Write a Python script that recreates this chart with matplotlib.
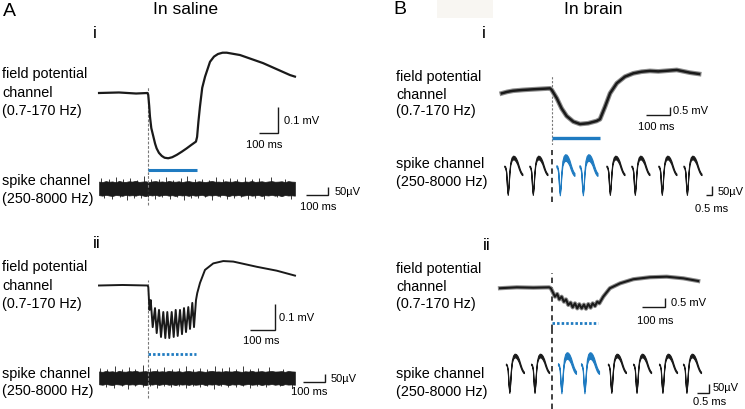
import numpy as np
import matplotlib
matplotlib.use("Agg")
import matplotlib.pyplot as plt
from matplotlib.patches import Rectangle

plt.rcParams["font.family"] = ["Liberation Sans", "DejaVu Sans"]

W, H = 745, 409
BLACK = "#1a1a1a"
BLUE = "#1f7bc1"
GREY = "#7a7a7a"

# =============================================================================
# Data
# =============================================================================

# --- A i: field potential in saline, continuous light (ms, mV) ---
AI_FIELD_T = [-255, -150, -60, 0, 4, 9, 13, 20, 31, 40, 48, 60, 75, 90, 109, 130,
              154, 180, 206, 230, 255, 261, 268, 276, 288, 303, 329, 350, 371,
              395, 417, 487, 608, 750, 776]
AI_FIELD_MV = [0.0, 0.002, -0.002, 0.0, -0.008, -0.050, -0.091, -0.135, -0.168,
               -0.195, -0.213, -0.230, -0.242, -0.249, -0.251, -0.247, -0.238,
               -0.226, -0.213, -0.200, -0.187, -0.169, -0.110, -0.053, 0.020,
               0.063, 0.120, 0.140, 0.150, 0.155, 0.155, 0.146, 0.115, 0.069,
               0.063]
AI_STIM_MS = (0, 260)

# --- A ii: field potential in saline, pulsed light (ms, mV) ---
AII_FIELD_T = [-194, -100, 0, 3.2, 8, 12.8, 20.8, 30, 36.8, 46, 54, 63.2, 71.2,
               79.2, 87.2, 96.8, 104.8, 112.8, 120.8, 130, 138, 146, 154, 163.2,
               170, 179.2, 186, 194, 199, 210, 230, 263, 303, 343, 437, 517, 590]
AII_FIELD_MV = [0.0, 0.002, 0.0, -0.006, -0.094, -0.056, -0.160, -0.087, -0.183,
                -0.094, -0.198, -0.102, -0.202, -0.102, -0.202, -0.102, -0.198,
                -0.094, -0.194, -0.094, -0.187, -0.087, -0.179, -0.083, -0.167,
                -0.067, -0.160, -0.056, -0.029, 0.010, 0.060, 0.085, 0.094,
                0.092, 0.072, 0.057, 0.038]
AII_STIM_MS = (2, 194)

# --- A: spike channel noise (uV): band edges over the sweep + single hairs ---
A_NOISE_SPAN_MS = (-220, 670)
AI_NOISE_UP = [42, 39, 45, 41, 43, 38, 46, 41, 40, 44, 42, 47, 40, 42, 44, 39, 43, 45, 41, 43,
               40, 46, 42, 41, 44, 39, 43, 45, 41, 40, 44, 42, 39, 43, 46, 41, 42, 40, 44, 42,
               41, 45, 42, 39, 43, 41, 46, 40, 42, 44, 40, 43, 45, 41, 42, 44, 39, 45, 42, 41]
AI_NOISE_LO = [-43, -46, -41, -45, -48, -42, -44, -47, -41, -45, -43, -46, -40, -44, -49, -42, -45, -41, -47, -43,
               -41, -46, -43, -48, -42, -45, -43, -47, -42, -46, -44, -41, -48, -43, -45, -42, -47, -41, -44, -49,
               -43, -45, -42, -47, -44, -41, -46, -44, -42, -48, -43, -45, -41, -46, -43, -49, -42, -45, -44, -46]
AI_HAIR_UP_T = [-210, -176, -141, -112, -80, -47, -15, 18, 52, 83, 117, 150, 181,
                214, 246, 279, 311, 344, 376, 409, 441, 474, 507, 560, 625]
AI_HAIR_UP_UV = [62, 55, 71, 58, 66, 53, 78, 60, 57, 69, 54, 64, 75,
                 56, 61, 52, 70, 59, 65, 57, 73, 55, 62, 68, 58]
AI_HAIR_LO_T = [-198, -160, -126, -95, -63, -30, 3, 35, 68, 100, 133, 165, 198,
                230, 262, 295, 328, 360, 392, 425, 458, 490, 530, 590, 650]
AI_HAIR_LO_UV = [-60, -68, -55, -74, -58, -63, -52, -70, -57, -65, -54, -72, -59,
                 -62, -56, -76, -53, -66, -60, -55, -69, -58, -64, -57, -67]

AII_NOISE_UP = [44, 41, 47, 43, 45, 40, 48, 43, 42, 46, 44, 49, 42, 44, 46, 41, 45, 47, 43, 45,
                42, 48, 44, 43, 46, 41, 45, 47, 43, 42, 46, 44, 41, 45, 48, 43, 44, 42, 46, 44,
                43, 47, 44, 41, 45, 43, 48, 42, 44, 46, 42, 45, 47, 43, 44, 46, 41, 47, 44, 43]
AII_NOISE_LO = [-42, -45, -40, -44, -47, -41, -43, -46, -40, -44, -42, -45, -39, -43, -48, -41, -44, -40, -46, -42,
                -40, -45, -42, -47, -41, -44, -42, -46, -41, -45, -43, -40, -47, -42, -44, -41, -46, -40, -43, -48,
                -42, -44, -41, -46, -43, -40, -45, -43, -41, -47, -42, -44, -40, -45, -42, -48, -41, -44, -43, -45]
AII_HAIR_UP_T = [-214, -183, -150, -118, -86, -55, -22, 10, 44, 76, 110, 142, 175,
                 207, 240, 272, 305, 337, 370, 402, 435, 468, 500, 550, 615]
AII_HAIR_UP_UV = [68, 60, 80, 63, 72, 58, 85, 66, 62, 76, 59, 70, 82,
                  61, 67, 57, 77, 64, 71, 62, 79, 60, 68, 74, 63]
AII_HAIR_LO_T = [-190, -152, -118, -88, -55, -20, 12, 44, 77, 108, 141, 173, 206,
                 238, 270, 302, 335, 367, 400, 432, 465, 498, 540, 600, 655]
AII_HAIR_LO_UV = [-57, -64, -52, -70, -55, -60, -50, -66, -54, -62, -51, -68, -56,
                  -59, -53, -72, -50, -63, -57, -52, -65, -55, -61, -54, -64]

# --- B i: field potential in brain, continuous light (ms, mV) ---
BI_FIELD_T = [-207, -185, -160, -120, -77, -6, 1, 22, 42, 63, 91, 119, 153, 188,
              202, 223, 244, 272, 306, 341, 375, 410, 445, 480, 522, 577, 615]
BI_FIELD_MV = [-0.27, -0.18, -0.11, -0.06, -0.02, 0.04, -0.06, -0.58, -1.21,
               -1.69, -2.04, -2.19, -2.14, -2.00, -1.89, -1.11, -0.27, 0.36,
               0.77, 0.98, 1.08, 1.13, 1.10, 1.14, 1.19, 1.02, 0.94]
BI_STIM_MS = (0, 202)

# --- B ii: field potential in brain, pulsed light (ms, mV) ---
BII_FIELD_T = [-224, -151, -79, -10, -3, 8, 15, 25, 34, 44, 54, 63, 73, 83, 92,
               102, 112, 121, 131, 141, 150, 160, 170, 179, 189, 199, 208, 225,
               254, 298, 356, 428, 501, 573, 638]
BII_FIELD_MV = [-0.04, 0.01, -0.01, 0.01, -0.04, -0.32, -0.51, -0.36, -0.66,
                -0.51, -0.79, -0.66, -0.97, -0.84, -1.10, -0.88, -1.16, -0.93,
                -1.16, -0.95, -1.18, -0.92, -1.12, -0.88, -1.03, -0.79, -0.88,
                -0.51, -0.04, 0.23, 0.46, 0.57, 0.60, 0.51, 0.36]
BII_STIM_MS = (0, 202)

# --- B: sorted unit waveform (fraction of the window, uV) ---
SPIKE_FRAC = [0.00, 0.05, 0.10, 0.15, 0.19, 0.23, 0.28, 0.33, 0.40, 0.48,
              0.56, 0.64, 0.72, 0.80, 0.88, 0.95, 1.00]
SPIKE_UV = [15, 10, -15, -100, -140, -100, -20, 30, 55, 64,
            62, 52, 35, 10, -12, -25, -30]
SPIKE_SPREAD_BASE = [4, 4, 4, 4, 4, 4, 5, 7, 9, 10, 10, 10, 9, 8, 6, 5, 4]
SPIKE_SPREAD_EVOKED = [6, 6, 6, 6, 6, 7, 10, 14, 17, 18, 18, 17, 15, 13, 11, 9, 8]

BI_SPIKE_ONSET_MS = [-3.93, -1.84, 0.41, 2.33, 4.58, 6.66, 8.91, 11.0]
BI_SPIKE_WIN_MS = 1.5
BII_SPIKE_ONSET_MS = [-1.90, -0.85, 0.27, 1.23, 2.35, 3.40, 4.48, 5.48]
BII_SPIKE_WIN_MS = 0.75
SPIKE_EVOKED = [False, False, True, True, False, False, False, False]


# =============================================================================
# Helpers
# =============================================================================

fig = plt.figure(figsize=(W / 100, H / 100), dpi=100)


def trace_axes(box, origin, px_per_x, px_per_y):
    """Axes over a pixel box; origin is the pixel of (t=0, v=0)."""
    l, t, r, b = box
    ax = fig.add_axes([l / W, 1 - b / H, (r - l) / W, (b - t) / H])
    ax.set_xlim((l - origin[0]) / px_per_x, (r - origin[0]) / px_per_x)
    ax.set_ylim((origin[1] - b) / px_per_y, (origin[1] - t) / px_per_y)
    ax.axis("off")
    ax._box = box
    return ax


def onset_line(ax, y_top, y_bot, **style):
    l, t, r, b = ax._box
    ax.axvline(0, ymin=(b - y_bot) / (b - t), ymax=(b - y_top) / (b - t), **style)


def scale_bar(ax, x_end, y0, dx, dy, xlab, xlab_pos, ylab, ylab_pos):
    ax.plot([x_end - dx, x_end, x_end], [y0, y0, y0 + dy], color=BLACK,
            lw=1.0, solid_joinstyle="miter", solid_capstyle="butt", clip_on=False)
    ax.text(*ylab_pos, ylab, fontsize=8, ha="left", va="center")
    ax.text(*xlab_pos, xlab, fontsize=8, ha="center", va="center")


def fig_text(x, y, s, size=10.4, **kw):
    fig.text(x / W, 1 - y / H, s, fontsize=size, va="center", **kw)


def channel_labels(x, ys):
    lines = ["field potential", "channel", "(0.7-170 Hz)",
             "spike channel", "(250-8000 Hz)"]
    for s, y in zip(lines, ys):
        fig_text(x, y, s)


def noise_band(ax, up, lo, hair_up_t, hair_up, hair_lo_t, hair_lo):
    tn = np.linspace(*A_NOISE_SPAN_MS, len(up))
    ax.fill_between(tn, lo, up, color=BLACK, lw=0.5, edgecolor=BLACK)
    ax.vlines(hair_up_t, 0, hair_up, color=BLACK, lw=0.6)
    ax.vlines(hair_lo_t, hair_lo, 0, color=BLACK, lw=0.6)


def draw_spikes(ax, onsets, win):
    frac = np.array(SPIKE_FRAC)
    uv = np.array(SPIKE_UV)
    for onset, evoked in zip(onsets, SPIKE_EVOKED):
        t = onset + frac * win
        spread = np.array(SPIKE_SPREAD_EVOKED if evoked else SPIKE_SPREAD_BASE)
        color = BLUE if evoked else BLACK
        ax.fill_between(t, uv - spread, uv + spread, color=color, lw=0.8,
                        edgecolor=color)


# =============================================================================
# Panel A  (in saline)
# =============================================================================

fig_text(3, 11, "A", size=14)
fig_text(186, 9, "In saline", size=12.6, ha="center")
fig_text(93, 33, "i", size=12.6)
fig_text(93, 244, "ii", size=12.6)
channel_labels(2, [74, 93, 111, 181, 199])
channel_labels(2, [267.5, 286, 304, 374, 391])

# A i field
ax = trace_axes((95, 40, 370, 175), (147.5, 93), 0.19, 260)
onset_line(ax, 87, 175, color=GREY, lw=0.8, ls=(0, (2.5, 1.5)))
ax.plot(AI_FIELD_T, AI_FIELD_MV, color=BLACK, lw=1.6)
ax.plot(AI_STIM_MS, [-0.296, -0.296], color=BLUE, lw=2.2, solid_capstyle="butt")
scale_bar(ax, 687, -0.154, 100, 0.1, "100 ms", (613, -0.2), "0.1 mV", (718, -0.108))

# A i spikes
ax = trace_axes((95, 172, 370, 212), (147.5, 188.3), 0.22, 0.16)
onset_line(ax, 172, 205, color=GREY, lw=0.8, ls=(0, (2.5, 1.5)))
noise_band(ax, AI_NOISE_UP, AI_NOISE_LO, AI_HAIR_UP_T, AI_HAIR_UP_UV,
           AI_HAIR_LO_T, AI_HAIR_LO_UV)
scale_bar(ax, 820, -42, 100, 50, "100 ms", (777, -115), "50µV", (852, -21))

# A ii field
ax = trace_axes((95, 250, 370, 362), (147.5, 285.5), 0.25, 260)
onset_line(ax, 280, 362, color=GREY, lw=0.8, ls=(0, (2.5, 1.5)))
ax.plot(AII_FIELD_T, AII_FIELD_MV, color=BLACK, lw=1.4)
ax.plot(AII_STIM_MS, [-0.263, -0.263], color=BLUE, lw=2.0,
        ls=(0, (0.9, 0.75)), dash_capstyle="butt")
scale_bar(ax, 510, -0.171, 100, 0.1, "100 ms", (456, -0.213), "0.1 mV", (526, -0.125))

# A ii spikes
ax = trace_axes((95, 362, 370, 405), (147.5, 378), 0.22, 0.15)
onset_line(ax, 362, 398, color=GREY, lw=0.8, ls=(0, (2.5, 1.5)))
noise_band(ax, AII_NOISE_UP, AII_NOISE_LO, AII_HAIR_UP_T, AII_HAIR_UP_UV,
           AII_HAIR_LO_T, AII_HAIR_LO_UV)
scale_bar(ax, 807, -25, 100, 50, "100 ms", (734, -91), "50µV", (830, -7))

# =============================================================================
# Panel B  (in brain)
# =============================================================================

fig.patches.append(Rectangle((437 / W, 1 - 18 / H), 56 / W, 18 / H,
                             transform=fig.transFigure, facecolor="#f8f6f2",
                             edgecolor="none"))
fig_text(393, 10, "B", size=14)
fig_text(593.5, 9, "In brain", size=12.6, ha="center")
fig_text(482, 33, "i", size=12.6)
fig_text(483, 246, "ii", size=12.6)
channel_labels(396, [77.5, 95, 111.5, 164, 182])
channel_labels(396, [269, 287, 304, 374, 392])

# B i field
ax = trace_axes((495, 55, 745, 145), (551.5, 89), 0.24, 16)
onset_line(ax, 76, 145, color=GREY, lw=0.8, ls=(0, (2.0, 1.5)))
ax.plot(BI_FIELD_T, BI_FIELD_MV, color="#8c8c8c", lw=3.4)
ax.plot(BI_FIELD_T, BI_FIELD_MV, color=BLACK, lw=1.8)
ax.plot(BI_STIM_MS, [-3.06, -3.06], color=BLUE, lw=2.4, solid_capstyle="butt")
scale_bar(ax, 494, -1.625, 100, 0.5, "100 ms", (435, -2.375), "0.5 mV", (506, -1.375))

# B i spikes
ax = trace_axes((495, 145, 745, 215), (551.5, 169), 12, 0.18)
onset_line(ax, 150, 202, color="#333333", lw=1.3, ls=(0, (3, 2.2)))
draw_spikes(ax, BI_SPIKE_ONSET_MS, BI_SPIKE_WIN_MS)
scale_bar(ax, 13.4, -144, 0.5, 50, "0.5 ms", (13.3, -222), "50µV", (13.875, -128))

# B ii field
ax = trace_axes((495, 260, 745, 330), (551.5, 287.5), 0.23, 18)
onset_line(ax, 273, 330, color="#333333", lw=1.3, ls=(0, (3, 2.2)))
ax.plot(BII_FIELD_T, BII_FIELD_MV, color="#8c8c8c", lw=3.0)
ax.plot(BII_FIELD_T, BII_FIELD_MV, color=BLACK, lw=1.5)
ax.plot(BII_STIM_MS, [-1.97, -1.97], color=BLUE, lw=2.0,
        ls=(0, (0.9, 0.75)), dash_capstyle="butt")
scale_bar(ax, 493, -1.08, 100, 0.5, "100 ms", (450, -1.84), "0.5 mV", (518, -0.88))

# B ii spikes
ax = trace_axes((495, 330, 745, 409), (551.5, 367), 24, 0.18)
onset_line(ax, 330, 409, color="#333333", lw=1.3, ls=(0, (3, 2.2)))
draw_spikes(ax, BII_SPIKE_ONSET_MS, BII_SPIKE_WIN_MS)
scale_bar(ax, 6.56, -144, 0.5, 50, "0.5 ms", (6.6, -194), "50µV", (6.73, -117))

fig.savefig("out.png", dpi=100)
